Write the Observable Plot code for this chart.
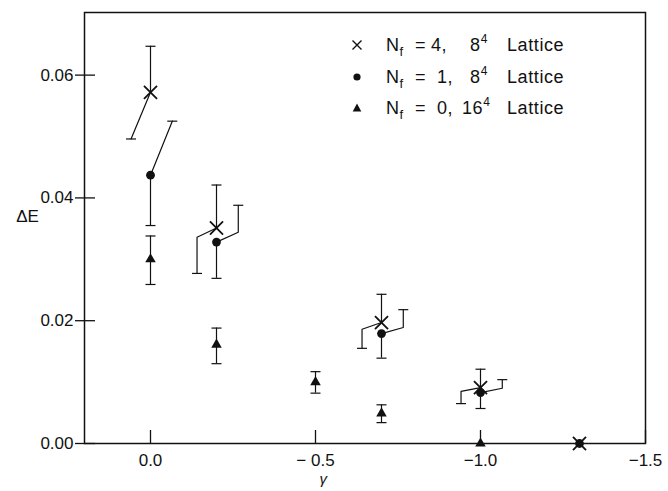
<!DOCTYPE html>
<html><head><meta charset="utf-8">
<script src="https://cdn.jsdelivr.net/npm/d3@7"></script>
<script src="https://cdn.jsdelivr.net/npm/@observablehq/plot@0.6"></script>
<style>
body{margin:0;background:#fff;}
#wrap{position:relative;width:668px;height:491px;font-family:"Liberation Sans",Arial,sans-serif;color:#111;}
.row{position:absolute;left:0;width:668px;height:24px;font-size:18px;letter-spacing:0.6px;line-height:24px;}
.row span{position:absolute;top:0;white-space:nowrap;}
.row sub{font-size:13px;vertical-align:-5px;line-height:0;}
.row sup{font-size:12px;vertical-align:8px;line-height:0;}
.row svg{position:absolute;top:0;}
</style></head><body><div id="wrap"></div>
<script>
// ---- data ----
const gamma14 = [0, -0.2, -0.7, -1.0, -1.3];
const nf4 = [0.0572, 0.0351, 0.0197, 0.0091, 0.0];
const nf4Hi = [0.0647, 0.0421, 0.0243, 0.0121, null];
const nf4Lo = [0.0496, 0.0277, 0.0155, 0.0065, null];
const nf4Bend = [0.0496, 0.0336, 0.0186, 0.0085, null];
const nf1 = [0.0437, 0.0328, 0.0179, 0.0083, 0.0];
const nf1Lo = [0.0355, 0.0269, 0.0139, 0.0057, null];
const nf1Hi = [0.0525, 0.0388, 0.0218, 0.0104, null];
const nf1Bend = [0.0525, 0.0344, 0.0189, 0.0090, null];
const gamma0 = [0, -0.2, -0.5, -0.7, -1.0];
const nf0 = [0.0300, 0.0161, 0.0100, 0.0049, 0.0];
const nf0Hi = [0.0338, 0.0188, 0.0117, 0.0063, null];
const nf0Lo = [0.0259, 0.0130, 0.0082, 0.0034, null];
const xTicks = [0, -0.5, -1.0, -1.5];
const xTickLabels = ["0.0", "\u2212 0.5", "\u22121.0", "\u22121.5"];
const yTicks = [0, 0.02, 0.04, 0.06];
const yTickLabels = ["0.00", "0.02", "0.04", "0.06"];
const legendLabels = [
  {sym: "times", val: "4,", lat: "8"},
  {sym: "circle", val: "1,", lat: "8"},
  {sym: "triangle", val: "0,", lat: "16"}
];

// ---- layout ----
const W = 668, H = 491, mL = 84, mR = 23, mT = 12, mB = 48;
const plotW = W - mL - mR, plotH = H - mT - mB;
const dx4 = 0.059, dx1 = -0.066; // horizontal offsets of displaced error bars
const ink = "#111";

const rows = [];
gamma14.forEach((g, i) => {
  rows.push({g, nf4: nf4[i], hi4: nf4Hi[i], lo4: nf4Lo[i], b4: nf4Bend[i],
             nf1: nf1[i], hi1: nf1Hi[i], lo1: nf1Lo[i], b1: nf1Bend[i]});
});
const r0 = gamma0.map((g, i) => ({g, v: nf0[i], hi: nf0Hi[i], lo: nf0Lo[i]}));
const withErr = rows.filter(d => d.hi4 != null);

// displaced bars as polylines
const bent = [];
withErr.forEach((d, k) => {
  bent.push({id: "a" + k, x: d.g, y: d.nf4});
  bent.push({id: "a" + k, x: d.g + dx4, y: d.b4});
  bent.push({id: "a" + k, x: d.g + dx4, y: d.lo4});
  bent.push({id: "b" + k, x: d.g, y: d.nf1});
  bent.push({id: "b" + k, x: d.g + dx1, y: d.b1});
  bent.push({id: "b" + k, x: d.g + dx1, y: d.hi1});
});

const cap = {draw(ctx, size) { const r = Math.sqrt(size / Math.PI); ctx.moveTo(-r, 0); ctx.lineTo(r, 0); }};
const capStyle = {symbol: cap, r: 5, stroke: ink, strokeWidth: 1.2, fill: "none"};
const r0e = r0.filter(d => d.hi != null);

const chart = Plot.plot({
  width: W, height: H, marginLeft: mL, marginRight: mR, marginTop: mT, marginBottom: mB,
  style: {fontFamily: "'Liberation Sans', Arial, sans-serif", color: ink, background: "white"},
  x: {domain: [0.2, -1.5], axis: null},
  y: {domain: [0, 0.0702], axis: null},
  marks: [
    Plot.tickX(xTicks, {x: d => d, insetTop: plotH - 13, stroke: ink, strokeWidth: 1.3}),
    Plot.tickY(yTicks, {y: d => d, insetRight: plotW - 11, insetLeft: -9, stroke: ink, strokeWidth: 1.3}),
    Plot.text(xTicks, {x: d => d, text: (d, i) => xTickLabels[i], frameAnchor: "bottom", dy: 22, fontSize: 17, fill: ink}),
    Plot.text(yTicks, {y: d => d, text: (d, i) => yTickLabels[i], frameAnchor: "left", textAnchor: "end", dx: -11, fontSize: 17, fill: ink}),
    Plot.text(["\u0394E"], {frameAnchor: "left", dx: -57, dy: -11, fontSize: 17, fill: ink, textAnchor: "middle"}),
    Plot.text(["\u03b3"], {frameAnchor: "bottom-left", dx: 235, dy: 40, fontSize: 15, fontStyle: "italic", fill: ink}),
    // error bars
    Plot.ruleX(withErr, {x: "g", y1: "nf4", y2: "hi4", stroke: ink, strokeWidth: 1.2}),
    Plot.ruleX(withErr, {x: "g", y1: "nf1", y2: "lo1", stroke: ink, strokeWidth: 1.2}),
    Plot.line(bent, {x: "x", y: "y", z: "id", stroke: ink, strokeWidth: 1.2, curve: "linear"}),
    Plot.dot(withErr, {x: "g", y: "hi4", ...capStyle}),
    Plot.dot(withErr, {x: d => d.g + dx4, y: "lo4", ...capStyle}),
    Plot.dot(withErr, {x: "g", y: "lo1", ...capStyle}),
    Plot.dot(withErr, {x: d => d.g + dx1, y: "hi1", ...capStyle}),
    Plot.ruleX(r0e, {x: "g", y1: "lo", y2: "hi", stroke: ink, strokeWidth: 1.2}),
    Plot.dot(r0e, {x: "g", y: "hi", ...capStyle}),
    Plot.dot(r0e, {x: "g", y: "lo", ...capStyle}),
    // markers
    Plot.dot(r0, {x: "g", y: "v", symbol: "triangle", r: 3.9, fill: ink, stroke: "none"}),
    Plot.dot(rows, {x: "g", y: "nf1", symbol: "circle", r: 4.4, fill: ink, stroke: "none"}),
    Plot.dot(rows, {x: "g", y: "nf4", symbol: "times", r: 6, stroke: ink, strokeWidth: 1.8, fill: "none"}),
    Plot.frame({stroke: ink, strokeWidth: 1.5})
  ]
});
const wrap = document.getElementById("wrap");
wrap.appendChild(chart);

// legend
const symPath = {
  times: '<path d="M2.5,7.5L11.5,16.5M11.5,7.5L2.5,16.5" stroke="#111" stroke-width="1.4"/>',
  circle: '<circle cx="7" cy="12" r="3.6" fill="#111"/>',
  triangle: '<path d="M7,7.5L11.3,15.5L2.7,15.5Z" fill="#111"/>'
};
const rowY = [33, 65, 96];
legendLabels.forEach((L, i) => {
  const div = document.createElement("div");
  div.className = "row";
  div.style.top = rowY[i] + "px";
  div.innerHTML =
    `<svg style="left:350px" width="14" height="24">${symPath[L.sym]}</svg>` +
    `<span style="left:386px">N<sub>f</sub></span>` +
    `<span style="left:415px">=</span>` +
    `<span style="left:${L.val === '4,' ? 431 : 437}px">${L.val}</span>` +
    `<span style="left:${L.lat.length > 1 ? 462 : 470}px">${L.lat}<sup>4</sup></span>` +
    `<span style="left:507px">Lattice</span>`;
  wrap.appendChild(div);
});
</script></body></html>
